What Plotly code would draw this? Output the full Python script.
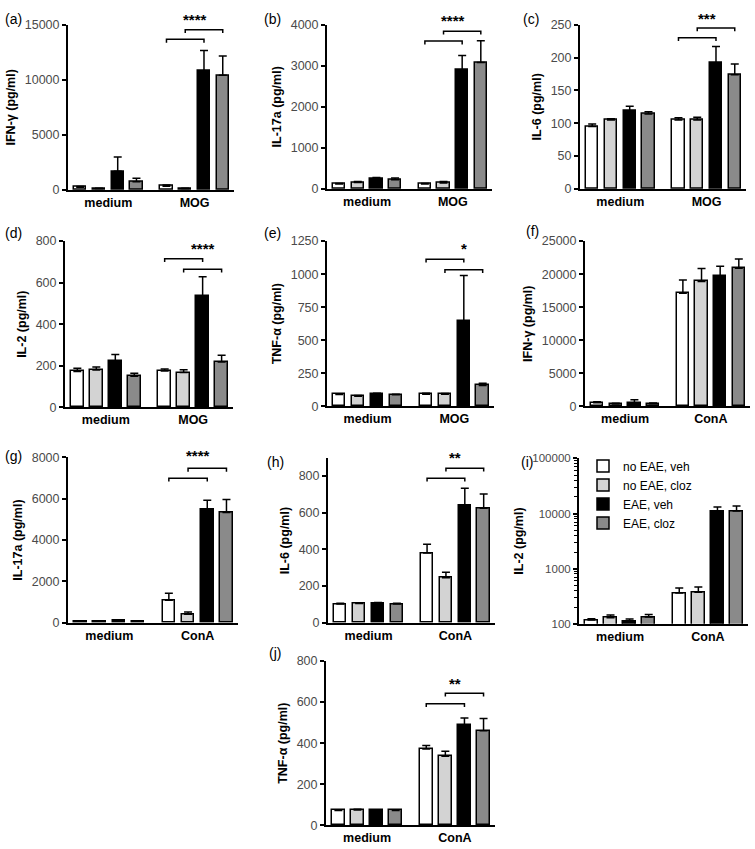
import plotly.graph_objects as go

W, H = 755, 849

series_names = ["no EAE, veh", "no EAE, cloz", "EAE, veh", "EAE, cloz"]
series_colors = ["#ffffff", "#d3d3d3", "#000000", "#8a8a8a"]

cats_mog = ["medium", "MOG"]
cats_cona = ["medium", "ConA"]

# values: [medium x4 series, stimulated x4 series]
a_mean = [250, 120, 1700, 750, 340, 120, 10800, 10400]
a_err = [60, 30, 1300, 300, 100, 40, 1850, 1750]
b_mean = [120, 160, 240, 224, 120, 144, 2900, 3080]
b_err = [15, 20, 40, 40, 15, 40, 350, 530]
c_mean = [95, 105, 119, 114, 105, 105, 192, 174]
c_err = [4, 2, 7, 3.5, 3.5, 4, 25, 16]
d_mean = [172, 180, 223, 150, 175, 167, 533, 218]
d_err = [16, 14, 31, 14, 9, 14, 95, 33]
e_mean = [89, 77, 94, 87, 92, 92, 646, 157]
e_err = [5, 5, 5, 5, 7, 5, 343, 17]
f_mean = [550, 350, 550, 400, 17100, 18900, 19700, 20900]
f_err = [150, 100, 450, 100, 2000, 1950, 1500, 1400]
g_mean = [80, 80, 110, 80, 1080, 410, 5500, 5330]
g_err = [15, 15, 20, 15, 350, 110, 430, 640]
h_mean = [102, 104, 106, 102, 379, 245, 639, 624]
h_err = [4, 4, 4, 4, 49, 30, 93, 77]
i_mean = [116, 128, 112, 132, 361, 372, 11100, 11100]
i_err = [7, 15, 9, 15, 83, 91, 2030, 2580]
j_mean = [72, 75, 72, 72, 371, 336, 486, 461]
j_err = [3, 3, 3, 3, 18, 24, 37, 59]

y_titles = ["IFN-γ (pg/ml)", "IL-17a (pg/ml)", "IL-6 (pg/ml)", "IL-2 (pg/ml)",
            "TNF-α (pg/ml)", "IFN-γ (pg/ml)", "IL-17a (pg/ml)", "IL-6 (pg/ml)",
            "IL-2 (pg/ml)", "TNF-α (pg/ml)"]
panel_letters = ["(a)", "(b)", "(c)", "(d)", "(e)", "(f)", "(g)", "(h)", "(i)", "(j)"]

# significance: (lower bracket white->black, upper bracket lightgray->gray, stars, stars y, star placement)
sig_a = (13670, 14550, "****", 15450, "mid")
sig_b = (3600, 3840, "****", 4110, "mid")
sig_c = (230, 245, "***", 260, "mid")
sig_d = (715, 665, "****", 765, "black")
sig_e = (1113, 1034, "*", 1195, "black")
sig_g = (6996, 7473, "****", 8080, "mid")
sig_h = (787, 841, "**", 898, "mid")
sig_j = (592, 643, "**", 691, "mid")

panels = [
    dict(m=a_mean, e=a_err, cats=cats_mog, yr=[0, 15000], dt=5000, log=False, sig=sig_a,
         box=(68, 234, 18, 186), lab=(3, 12)),
    dict(m=b_mean, e=b_err, cats=cats_mog, yr=[0, 4000], dt=1000, log=False, sig=sig_b,
         box=(327, 492, 18, 185), lab=(262, 12)),
    dict(m=c_mean, e=c_err, cats=cats_mog, yr=[0, 250], dt=50, log=False, sig=sig_c,
         box=(580, 746, 18, 185), lab=(521, 12)),
    dict(m=d_mean, e=d_err, cats=cats_mog, yr=[0, 800], dt=200, log=False, sig=sig_d,
         box=(65, 233, 238, 407), lab=(3, 230)),
    dict(m=e_mean, e=e_err, cats=cats_mog, yr=[0, 1250], dt=250, log=False, sig=sig_e,
         box=(327, 494, 238, 406), lab=(262, 230)),
    dict(m=f_mean, e=f_err, cats=cats_cona, yr=[0, 25000], dt=5000, log=False, sig=None,
         box=(585, 750, 238, 406), lab=(524, 228)),
    dict(m=g_mean, e=g_err, cats=cats_cona, yr=[0, 8000], dt=2000, log=False, sig=sig_g,
         box=(68, 238, 458, 626), lab=(3, 457)),
    dict(m=h_mean, e=h_err, cats=cats_cona, yr=[0, 895], dt=200, log=False, sig=sig_h,
         box=(328, 495, 459, 626), lab=(265, 463)),
    dict(m=i_mean, e=i_err, cats=cats_cona, yr=[2, 5], dt=1, log=True, sig=None,
         box=(579, 748, 459, 627), lab=(519, 463)),
    dict(m=j_mean, e=j_err, cats=cats_cona, yr=[0, 800], dt=200, log=False, sig=sig_j,
         box=(326, 495, 665, 832), lab=(267, 657)),
]

FONT = "Liberation Sans, Arial, Helvetica, sans-serif"
group_gap = 0.6
bar_w = 0.66
n_series = len(series_names)


def xpos(group, s):
    return group * (n_series + group_gap) + s


fig = go.Figure()
shapes = []
annotations = []
layout_axes = {}

for k, p in enumerate(panels):
    n = k + 1
    xa = "x" if n == 1 else f"x{n}"
    ya = "y" if n == 1 else f"y{n}"
    for s in range(n_series):
        xs = [xpos(g, s) for g in range(2)]
        ys = [p["m"][g * n_series + s] for g in range(2)]
        es = [p["e"][g * n_series + s] for g in range(2)]
        fig.add_trace(go.Bar(
            x=xs, y=ys, width=bar_w, name=series_names[s],
            marker=dict(color=series_colors[s], line=dict(color="black", width=1.5)),
            error_y=dict(type="data", array=es, arrayminus=[0] * len(es), symmetric=False,
                         color="black", thickness=1.5, width=4),
            xaxis=xa, yaxis=ya, showlegend=(n == 9), legendgroup=series_names[s],
            hoverinfo="skip",
        ))
    x0, x1, yt, yb = p["box"]
    centers = [(xpos(g, 0) + xpos(g, n_series - 1)) / 2 for g in range(2)]
    xkey = "xaxis" if n == 1 else f"xaxis{n}"
    ykey = "yaxis" if n == 1 else f"yaxis{n}"
    layout_axes[xkey] = dict(
        domain=[x0 / W, x1 / W], anchor=ya, range=[-0.65, xpos(1, n_series - 1) + 0.6],
        tickmode="array", tickvals=centers, ticktext=p["cats"], ticks="",
        tickfont=dict(family=FONT, size=12.5, color="black", weight="bold"),
        showline=True, linecolor="black", linewidth=2, showgrid=False, zeroline=False,
        fixedrange=True,
    )
    yax = dict(
        domain=[1 - yb / H, 1 - yt / H], anchor=xa, range=p["yr"],
        ticks="outside", ticklen=4, tickwidth=1.5, tickcolor="black",
        tickfont=dict(family=FONT, size=12.5, color="#4a4a4a"),
        showline=True, linecolor="black", linewidth=2, showgrid=False, zeroline=False,
        title=dict(text=y_titles[k], font=dict(family=FONT, size=12.5, color="black", weight="bold"),
                   standoff=6),
        fixedrange=True,
    )
    if p["log"]:
        tv = [10 ** v for v in range(int(p["yr"][0]), int(p["yr"][1]) + 1)]
        yax.update(type="log", tickmode="array", tickvals=tv, ticktext=[str(v) for v in tv],
                   tickfont=dict(family=FONT, size=11.5, color="#4a4a4a"),
                   minor=dict(ticks="outside", ticklen=3, tickwidth=1, tickcolor="black",
                              dtick="D1", showgrid=False))
    else:
        yax.update(dtick=p["dt"], tick0=0, tickformat="d")
    layout_axes[ykey] = yax

    # panel letter
    annotations.append(dict(text=panel_letters[k], x=p["lab"][0] / W, y=1 - p["lab"][1] / H,
                            xref="paper", yref="paper", xanchor="left", yanchor="middle",
                            showarrow=False, font=dict(family=FONT, size=14, color="black")))

    if p["sig"]:
        yl, yu, stars, sy, place = p["sig"]
        drop = 0.02 * (p["yr"][1] - p["yr"][0])
        brackets = [(xpos(1, 0), xpos(1, 2), yl), (xpos(1, 1), xpos(1, 3), yu)]
        for bx0, bx1, by in brackets:
            shapes.append(dict(
                type="path", xref=xa, yref=ya,
                path=f"M {bx0},{by - drop} L {bx0},{by} L {bx1},{by} L {bx1},{by - drop}",
                line=dict(color="black", width=1.5)))
        if place == "mid":
            sx = (brackets[0][0] + brackets[0][1] + brackets[1][0] + brackets[1][1]) / 4
        else:
            sx = xpos(1, 2)
        sy_dom = (sy - p["yr"][0]) / (p["yr"][1] - p["yr"][0])
        annotations.append(dict(text=stars, x=sx, y=sy_dom, xref=xa, yref=f"{ya} domain",
                                showarrow=False, xanchor="center", yanchor="middle",
                                font=dict(family=FONT, size=15, color="black", weight="bold")))

fig.update_layout(
    width=W, height=H, margin=dict(l=0, r=0, t=0, b=0),
    paper_bgcolor="white", plot_bgcolor="white",
    barmode="overlay", bargap=0,
    showlegend=True,
    legend=dict(x=583 / W, y=1 - 452 / H, xanchor="left", yanchor="top",
                font=dict(family=FONT, size=12, color="black"),
                bgcolor="rgba(0,0,0,0)", tracegroupgap=0, itemclick=False),
    shapes=shapes, annotations=annotations,
    **layout_axes,
)

fig.write_html("out.html", config={"displayModeBar": False},
               post_script="document.body.style.margin='0';")
